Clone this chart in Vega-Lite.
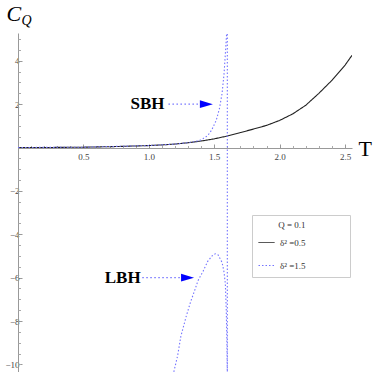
{
  "$schema": "https://vega.github.io/schema/vega-lite/v6.json",
  "width": 334,
  "height": 339,
  "autosize": {"type": "none"},
  "padding": {"left": 18, "top": 33, "right": 22, "bottom": 0},
  "background": "white",
  "config": {"view": {"stroke": null}, "font": "Liberation Serif"},
  "datasets": {
    "curves": [
      {"series": "δ² =0.5", "branch": "a", "i": 0, "T": 0, "C": 0},
      {"series": "δ² =0.5", "branch": "a", "i": 1, "T": 0.25, "C": 0.003},
      {"series": "δ² =0.5", "branch": "a", "i": 2, "T": 0.5, "C": 0.015},
      {"series": "δ² =0.5", "branch": "a", "i": 3, "T": 0.75, "C": 0.045},
      {"series": "δ² =0.5", "branch": "a", "i": 4, "T": 1.0, "C": 0.09},
      {"series": "δ² =0.5", "branch": "a", "i": 5, "T": 1.1, "C": 0.12},
      {"series": "δ² =0.5", "branch": "a", "i": 6, "T": 1.2, "C": 0.16},
      {"series": "δ² =0.5", "branch": "a", "i": 7, "T": 1.3, "C": 0.22},
      {"series": "δ² =0.5", "branch": "a", "i": 8, "T": 1.4, "C": 0.3},
      {"series": "δ² =0.5", "branch": "a", "i": 9, "T": 1.5, "C": 0.4},
      {"series": "δ² =0.5", "branch": "a", "i": 10, "T": 1.6, "C": 0.53},
      {"series": "δ² =0.5", "branch": "a", "i": 11, "T": 1.7, "C": 0.69},
      {"series": "δ² =0.5", "branch": "a", "i": 12, "T": 1.8, "C": 0.85},
      {"series": "δ² =0.5", "branch": "a", "i": 13, "T": 1.9, "C": 1.02},
      {"series": "δ² =0.5", "branch": "a", "i": 14, "T": 2.0, "C": 1.25},
      {"series": "δ² =0.5", "branch": "a", "i": 15, "T": 2.1, "C": 1.55},
      {"series": "δ² =0.5", "branch": "a", "i": 16, "T": 2.2, "C": 1.95},
      {"series": "δ² =0.5", "branch": "a", "i": 17, "T": 2.3, "C": 2.5},
      {"series": "δ² =0.5", "branch": "a", "i": 18, "T": 2.4, "C": 3.1},
      {"series": "δ² =0.5", "branch": "a", "i": 19, "T": 2.5, "C": 3.8},
      {"series": "δ² =0.5", "branch": "a", "i": 20, "T": 2.553, "C": 4.25},
      {"series": "δ² =1.5", "branch": "b1", "i": 0, "T": 0, "C": 0},
      {"series": "δ² =1.5", "branch": "b1", "i": 1, "T": 0.5, "C": 0.015},
      {"series": "δ² =1.5", "branch": "b1", "i": 2, "T": 1.0, "C": 0.09},
      {"series": "δ² =1.5", "branch": "b1", "i": 3, "T": 1.2, "C": 0.16},
      {"series": "δ² =1.5", "branch": "b1", "i": 4, "T": 1.3, "C": 0.22},
      {"series": "δ² =1.5", "branch": "b1", "i": 5, "T": 1.35, "C": 0.27},
      {"series": "δ² =1.5", "branch": "b1", "i": 6, "T": 1.4, "C": 0.35},
      {"series": "δ² =1.5", "branch": "b1", "i": 7, "T": 1.45, "C": 0.55},
      {"series": "δ² =1.5", "branch": "b1", "i": 8, "T": 1.48, "C": 0.8},
      {"series": "δ² =1.5", "branch": "b1", "i": 9, "T": 1.515, "C": 1.25},
      {"series": "δ² =1.5", "branch": "b1", "i": 10, "T": 1.54, "C": 1.8},
      {"series": "δ² =1.5", "branch": "b1", "i": 11, "T": 1.56, "C": 2.5},
      {"series": "δ² =1.5", "branch": "b1", "i": 12, "T": 1.575, "C": 3.4},
      {"series": "δ² =1.5", "branch": "b1", "i": 13, "T": 1.587, "C": 4.5},
      {"series": "δ² =1.5", "branch": "b1", "i": 14, "T": 1.597, "C": 5.5},
      {"series": "δ² =1.5", "branch": "b1", "i": 15, "T": 1.6, "C": 5.5},
      {"series": "δ² =1.5", "branch": "b1", "i": 16, "T": 1.6, "C": -10.5},
      {"series": "δ² =1.5", "branch": "b2", "i": 0, "T": 1.185, "C": -10.5},
      {"series": "δ² =1.5", "branch": "b2", "i": 1, "T": 1.22, "C": -9.6},
      {"series": "δ² =1.5", "branch": "b2", "i": 2, "T": 1.245, "C": -8.7},
      {"series": "δ² =1.5", "branch": "b2", "i": 3, "T": 1.285, "C": -7.8},
      {"series": "δ² =1.5", "branch": "b2", "i": 4, "T": 1.32, "C": -7.1},
      {"series": "δ² =1.5", "branch": "b2", "i": 5, "T": 1.35, "C": -6.6},
      {"series": "δ² =1.5", "branch": "b2", "i": 6, "T": 1.375, "C": -6.15},
      {"series": "δ² =1.5", "branch": "b2", "i": 7, "T": 1.415, "C": -5.7},
      {"series": "δ² =1.5", "branch": "b2", "i": 8, "T": 1.45, "C": -5.25},
      {"series": "δ² =1.5", "branch": "b2", "i": 9, "T": 1.49, "C": -4.95},
      {"series": "δ² =1.5", "branch": "b2", "i": 10, "T": 1.51, "C": -4.9},
      {"series": "δ² =1.5", "branch": "b2", "i": 11, "T": 1.53, "C": -4.95},
      {"series": "δ² =1.5", "branch": "b2", "i": 12, "T": 1.56, "C": -5.3},
      {"series": "δ² =1.5", "branch": "b2", "i": 13, "T": 1.575, "C": -5.75},
      {"series": "δ² =1.5", "branch": "b2", "i": 14, "T": 1.585, "C": -6.3},
      {"series": "δ² =1.5", "branch": "b2", "i": 15, "T": 1.592, "C": -7.5},
      {"series": "δ² =1.5", "branch": "b2", "i": 16, "T": 1.597, "C": -9},
      {"series": "δ² =1.5", "branch": "b2", "i": 17, "T": 1.6, "C": -10.5}
    ],
    "labels": [
      {"T": 0.99, "C": 2, "label": "SBH", "x0": 1.15, "x1": 1.4, "head": 1.44},
      {"T": 0.8, "C": -6, "label": "LBH", "x0": 0.95, "x1": 1.26, "head": 1.296}
    ]
  },
  "resolve": {"axis": {"x": "independent", "y": "independent"}},
  "layer": [
    {
      "data": {"name": "curves"},
      "mark": {"type": "line", "clip": true, "strokeWidth": 1.1},
      "encoding": {
        "x": {
          "field": "T", "type": "quantitative",
          "scale": {"domain": [0, 2.553], "nice": false, "zero": false},
          "axis": {
            "orient": "bottom", "offset": -224,
            "values": [0.5, 1, 1.5, 2, 2.5], "format": ".1f",
            "grid": false, "domainColor": "#999", "tickColor": "#999",
            "tickSize": -4, "labelPadding": 8,
            "labelFont": "Liberation Serif", "labelFontSize": 9, "labelColor": "#444",
            "title": "T", "titleFont": "Liberation Serif", "titleFontSize": 22,
            "titleFontWeight": "normal", "titleColor": "#000",
            "titleX": 340, "titleY": 7.5, "titleAlign": "left", "titleBaseline": "alphabetic", "titleAngle": 0
          }
        },
        "y": {
          "field": "C", "type": "quantitative",
          "scale": {"domain": [-10.35, 5.28], "nice": false, "zero": false},
          "axis": {
            "orient": "left",
            "values": [-10, -8, -6, -4, -2, 2, 4], "format": "d",
            "grid": false, "domainColor": "#999", "tickColor": "#999",
            "tickSize": -4, "labelPadding": 3,
            "labelFont": "Liberation Serif", "labelFontSize": 9, "labelColor": "#444",
            "title": "C", "titleFont": "Liberation Serif", "titleFontSize": 22,
            "titleFontStyle": "italic", "titleFontWeight": "normal", "titleColor": "#000",
            "titleX": -12, "titleY": -12.5, "titleAlign": "left", "titleBaseline": "alphabetic", "titleAngle": 0
          }
        },
        "color": {
          "field": "series", "type": "nominal",
          "scale": {"domain": ["δ² =0.5", "δ² =1.5"], "range": ["#222222", "#7474ff"]},
          "legend": {
            "orient": "none", "legendX": 234, "legendY": 182,
            "title": "\u200b\u00a0\u00a0\u00a0\u00a0\u00a0\u00a0\u00a0\u00a0\u00a0Q = 0.1\u00a0\u00a0\u00a0\u00a0\u00a0\u00a0\u00a0\u00a0\u00a0\u00a0\u00a0\u00a0\u00a0\u00a0\u00a0\u00a0\u00a0\u200b",
            "titleFont": "Liberation Serif", "titleFontSize": 9, "titleFontWeight": "normal", "titleColor": "#333",
            "titlePadding": 4,
            "labelFont": "Liberation Serif", "labelFontSize": 9, "labelColor": "#333", "labelOffset": 5,
            "symbolType": "stroke", "symbolSize": 256, "symbolStrokeWidth": 1,
            "rowPadding": 9, "padding": 6,
            "strokeColor": "#cccccc", "fillColor": "white"
          }
        },
        "strokeDash": {
          "field": "series", "type": "nominal",
          "scale": {"domain": ["δ² =0.5", "δ² =1.5"], "range": [[1, 0], [1.5, 2]]},
          "legend": null
        },
        "detail": {"field": "branch"},
        "order": {"field": "i", "type": "quantitative"}
      }
    },
    {
      "data": {"name": "labels"},
      "mark": {"type": "rule", "color": "#7474ff", "strokeDash": [1.5, 2.5], "strokeWidth": 1.2},
      "encoding": {
        "x": {
          "field": "x0", "type": "quantitative",
          "axis": {
            "orient": "bottom", "offset": -224,
            "values": [0.1, 0.2, 0.3, 0.4, 0.6, 0.7, 0.8, 0.9, 1.1, 1.2, 1.3, 1.4, 1.6, 1.7, 1.8, 1.9, 2.1, 2.2, 2.3, 2.4],
            "labels": false, "domain": false, "grid": false, "tickColor": "#aaa", "tickSize": -2.5, "title": null
          }
        },
        "x2": {"field": "x1"},
        "y": {
          "field": "C", "type": "quantitative",
          "axis": {
            "orient": "left",
            "values": [-10, -9.5, -9, -8.5, -7.5, -7, -6.5, -5.5, -5, -4.5, -3.5, -3, -2.5, -1.5, -1, -0.5, 0.5, 1, 1.5, 2.5, 3, 3.5, 4.5, 5],
            "labels": false, "domain": false, "grid": false, "tickColor": "#aaa", "tickSize": -2.5,
            "title": "Q", "titleFont": "Liberation Serif", "titleFontSize": 14,
            "titleFontStyle": "italic", "titleFontWeight": "normal", "titleColor": "#000",
            "titleX": 3, "titleY": -9, "titleAlign": "left", "titleBaseline": "alphabetic", "titleAngle": 0
          }
        }
      }
    },
    {
      "data": {"name": "labels"},
      "mark": {"type": "point", "shape": "M-1,-0.6L1,0L-1,0.6Z", "filled": true, "color": "#0000ff", "opacity": 1, "size": 169},
      "encoding": {
        "x": {"field": "head", "type": "quantitative", "axis": null},
        "y": {"field": "C", "type": "quantitative", "axis": null}
      }
    },
    {
      "data": {"name": "labels"},
      "mark": {"type": "text", "font": "Liberation Serif", "fontSize": 17, "fontWeight": "bold", "color": "#000", "align": "center", "baseline": "middle"},
      "encoding": {
        "x": {"field": "T", "type": "quantitative", "axis": null},
        "y": {"field": "C", "type": "quantitative", "axis": null},
        "text": {"field": "label"}
      }
    }
  ]
}
